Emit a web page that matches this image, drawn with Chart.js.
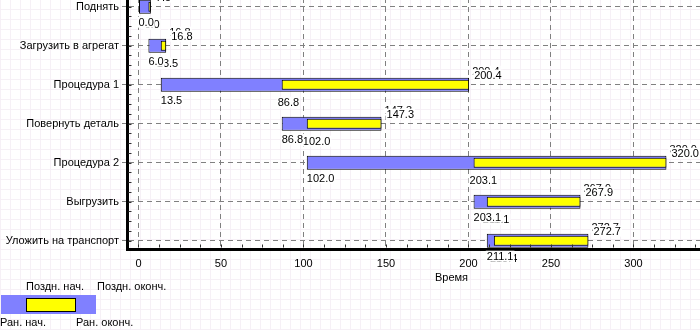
<!DOCTYPE html>
<html><head><meta charset="utf-8">
<script src="https://cdn.jsdelivr.net/npm/chart.js@4/dist/chart.umd.min.js"></script>
<style>
html,body{margin:0;padding:0;width:700px;height:330px;overflow:hidden;background:#fff;}
body{background-image:repeating-linear-gradient(90deg,#f6f0f6 0 1px,transparent 1px 10px),repeating-linear-gradient(0deg,#f6f0f6 0 1px,transparent 1px 10px);}
#c{position:absolute;left:0;top:-2px;}
</style></head><body>
<canvas id="c" width="776" height="334"></canvas>
<script>
// ---- data ----
const categories = ['Поднять','Загрузить в агрегат','Процедура 1','Повернуть деталь','Процедура 2','Выгрузить','Уложить на транспорт'];
const earlyStart  = [0.0, 6.0, 13.5, 86.8, 102.0, 203.1, 211.1];
const lateStart   = [6.0, 13.5, 86.8, 102.0, 203.1, 211.1, 215.4];
const earlyFinish = [7.5, 16.8, 200.4, 147.3, 320.0, 267.9, 272.7];
const lateFinish  = [7.5, 16.8, 200.4, 147.3, 320.0, 267.9, 272.7];
const xTickStep = 50;
const xMinorStep = 12.5;
const yMinorStep = 0.25;
const xTitle = 'Время';
const legendTexts = {lateStart:'Поздн. нач.', lateFinish:'Поздн. оконч.', earlyStart:'Ран. нач.', earlyFinish:'Ран. оконч.'};

const BLUE = '#8080ff', YELLOW = '#ffff00';
const FONT = '11px "Liberation Sans"';
Chart.defaults.font.family = 'Liberation Sans';
Chart.defaults.font.size = 11;
Chart.defaults.color = '#000';

const blueData = categories.map((c,i)=>({x:[earlyStart[i], lateFinish[i]], y:i}));
const yellowData = categories.map((c,i)=>({x:[lateStart[i], earlyFinish[i]], y:i}));

function label(ctx, text, x, base, bg){
  ctx.font = FONT;
  const w = ctx.measureText(text).width;
  if (bg){ ctx.fillStyle = '#fff'; ctx.fillRect(x-1, base-9, w+2, 11); }
  ctx.fillStyle = '#000';
  ctx.textAlign = 'left'; ctx.textBaseline = 'alphabetic';
  ctx.fillText(text, x, base);
}

const overlay = {
  id:'overlay',
  afterDatasetsDraw(chart){
    const ctx = chart.ctx, xs = chart.scales.x, ys = chart.scales.y;
    ctx.save();
    categories.forEach((c,i)=>{
      const cy = ys.getPixelForValue(i);
      label(ctx, lateFinish[i].toFixed(1), xs.getPixelForValue(lateFinish[i])+3, cy-10, true);
      label(ctx, earlyFinish[i].toFixed(1), xs.getPixelForValue(earlyFinish[i])+5, cy-6, true);
      label(ctx, lateStart[i].toFixed(1), xs.getPixelForValue(lateStart[i])-4, cy+21, true);
      label(ctx, earlyStart[i].toFixed(1), xs.getPixelForValue(earlyStart[i]), cy+19, true);
    });
    ctx.restore();
  },
  afterDraw(chart){
    const ctx = chart.ctx, xs = chart.scales.x, ys = chart.scales.y, a = chart.chartArea;
    ctx.save();
    ctx.strokeStyle = '#303030'; ctx.lineWidth = 1;
    ctx.beginPath();
    for (let v = 0; v <= xs.max; v += xMinorStep){
      const px = Math.round(xs.getPixelForValue(v)) + 0.5;
      ctx.moveTo(px, a.bottom - 1.5); ctx.lineTo(px, a.bottom - 4.5);
    }
    for (let v = 0; v <= ys.max; v += yMinorStep){
      const py = Math.round(ys.getPixelForValue(v)) + 0.5;
      ctx.moveTo(a.left + 1.5, py); ctx.lineTo(a.left + 4.5, py);
    }
    ctx.stroke();
    const oy = 2;
    ctx.fillStyle = BLUE; ctx.fillRect(1, 295+oy, 95, 19);
    ctx.fillStyle = YELLOW; ctx.fillRect(26, 298+oy, 50, 14);
    ctx.strokeStyle = '#000'; ctx.strokeRect(26.5, 298.5+oy, 49, 13);
    label(ctx, legendTexts.lateStart, 26, 290+oy, false);
    label(ctx, legendTexts.lateFinish, 97, 290+oy, false);
    label(ctx, legendTexts.earlyStart, 0, 326+oy, false);
    label(ctx, legendTexts.earlyFinish, 76, 326+oy, false);
    ctx.restore();
  }
};

new Chart(document.getElementById('c'), {
  type:'bar',
  data:{datasets:[
    {label:'late', data:yellowData, backgroundColor:YELLOW, borderColor:'#000', borderWidth:1, borderSkipped:false, grouped:false, categoryPercentage:1, barPercentage:10/39, order:0},
    {label:'early', data:blueData, backgroundColor:BLUE, borderColor:'#000', borderWidth:1, borderSkipped:false, grouped:false, categoryPercentage:1, barPercentage:14/39, order:1}
  ]},
  options:{
    indexAxis:'y', responsive:false, animation:false,
    layout:{padding:0},
    plugins:{legend:{display:false}, tooltip:{enabled:false}},
    scales:{
      x:{type:'linear', position:'bottom', min:-6.97, max:386.4, offset:false,
        afterFit(s){ s.height = 83; s.paddingLeft = 0; s.paddingRight = 0; },
        ticks:{stepSize:xTickStep, includeBounds:false, padding:4, maxRotation:0, autoSkip:false, font:{size:11}, color:'#000'},
        grid:{color:'#808080', tickColor:'rgba(0,0,0,0)', tickLength:4, offset:false},
        border:{display:true, color:'#000', width:3, dash:[5,4]},
        title:{display:true, text:xTitle, font:{size:11}, color:'#000', padding:{top:0, bottom:47}}
      },
      y:{type:'linear', reverse:true, min:-0.223, max:6.213, offset:false,
        afterFit(s){ s.width = 127; s.paddingTop = 0; s.paddingBottom = 0; },
        ticks:{stepSize:1, includeBounds:false, padding:3, autoSkip:false, font:{size:11}, color:'#000',
          callback:(v)=> (Number.isInteger(v) && categories[v] !== undefined) ? categories[v] : ''},
        grid:{color:'#808080', tickColor:'#808080', tickLength:5, tickBorderDash:[], offset:false},
        border:{display:true, color:'#000', width:3, dash:[5,4]}
      }
    }
  },
  plugins:[overlay]
});
</script>
</body></html>
